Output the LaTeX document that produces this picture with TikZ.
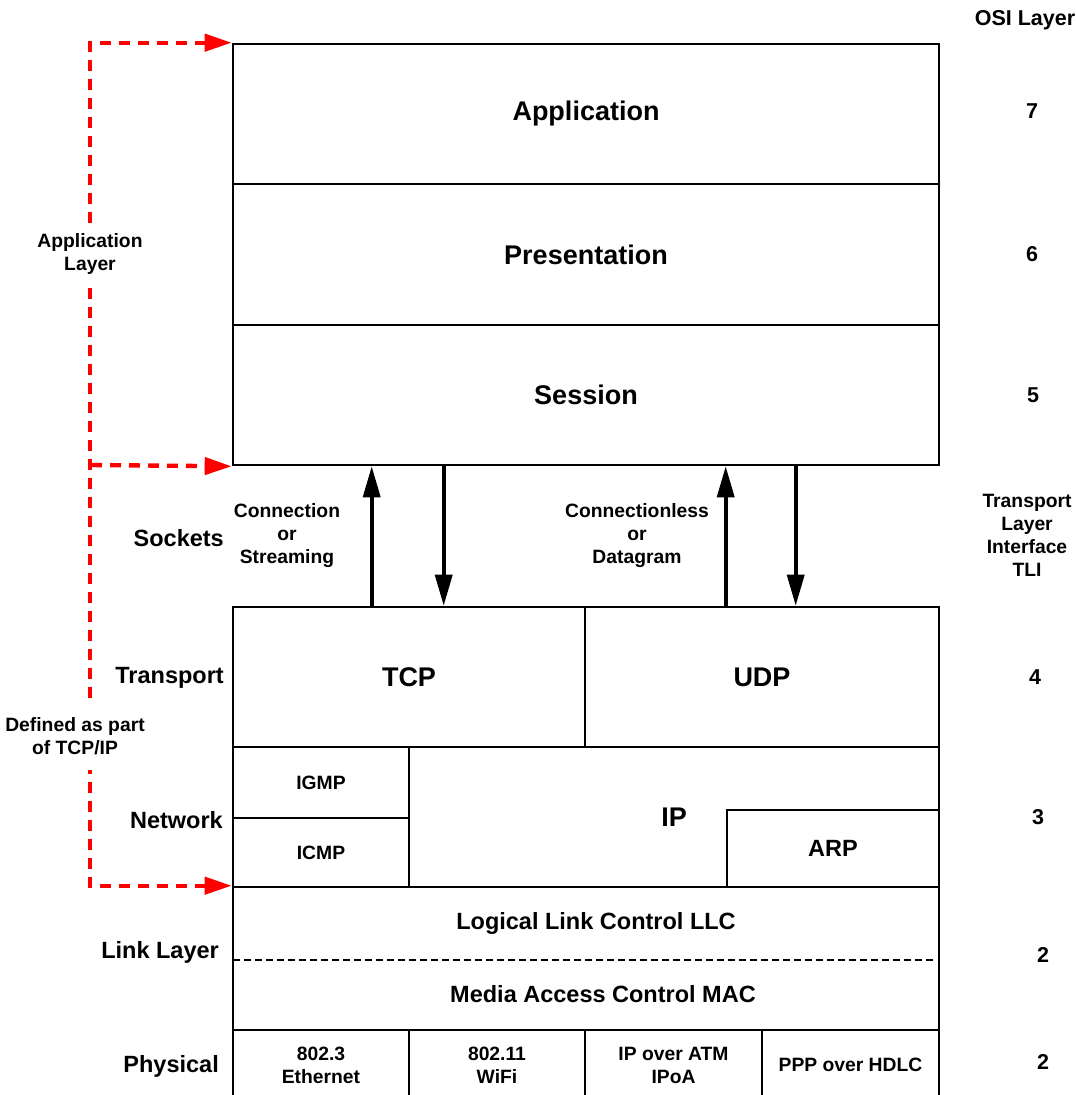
\documentclass[tikz,border=0pt]{standalone}
\usepackage{fontspec}
\setmainfont{Liberation Sans}
\usetikzlibrary{arrows.meta}
\begin{document}
\begin{tikzpicture}[x=1pt, y=-1pt,
        cell/.style={draw, line width=2.6pt, inner sep=0pt, align=center},
        big/.style={font=\fontsize{27}{30}\selectfont\bfseries},
        mid/.style={font=\fontsize{23.5}{27}\selectfont\bfseries},
        sm/.style={font=\fontsize{19.3}{23}\selectfont\bfseries, align=center},
        osi/.style={font=\fontsize{21.5}{23}\selectfont\bfseries, align=center},
        side/.style={mid, anchor=east, inner sep=0pt},
        sock/.style={line width=3.6pt, -{Triangle[length=31pt, width=17pt]}},
        tcpip/.style={draw=red, line width=4.4pt, dash pattern=on 11pt off 8pt},
        redtip/.tip={Triangle[length=27pt, width=17pt]}]
    \clip (0,0) rectangle (1076,1095);
    \def\xl{233} \def\xr{939} \def\xred{91}

    \node[cell, big, minimum width=706, minimum height=140] (app) at (586,114) {Application};
    \node[cell, big, minimum width=706, minimum height=141] (pres) at (586,254.5) {Presentation};
    \node[cell, big, minimum width=706, minimum height=140] (ses) at (586,395) {Session};

    \node[cell, big, minimum width=352, minimum height=140] (tcp) at (409,677) {TCP};
    \node[cell, big, minimum width=354, minimum height=140] (udp) at (762,677) {UDP};

    \node[cell, big, minimum width=530, minimum height=140] (ip) at (674,817) {IP};
    \node[cell, sm, minimum width=176, minimum height=71] (igmp) at (321,782.5) {IGMP};
    \node[cell, sm, minimum width=176, minimum height=69] (icmp) at (321,852.5) {ICMP};
    \node[cell, mid, minimum width=212, minimum height=77] (arp) at (833,848.5) {ARP};

    \node[cell, minimum width=706, minimum height=143] (link) at (586,958.5) {};
    \draw[line width=1.5pt, dash pattern=on 7pt off 4pt] (\xl,960) -- (935,960);
    \node[mid] (llc) at (596,923) {Logical Link Control LLC};
    \node[mid] (mac) at (603,994) {Media Access Control MAC};

    \node[cell, sm, minimum width=176, minimum height=70] (eth) at (321,1065) {802.3\\Ethernet};
    \node[cell, sm, minimum width=176, minimum height=70] (wifi) at (497,1065) {802.11\\WiFi};
    \node[cell, sm, minimum width=177, minimum height=70] (ipoa) at (673.5,1065) {IP over ATM\\IPoA};
    \node[cell, sm, minimum width=177, minimum height=70] (ppp) at (850.5,1065) {PPP over HDLC};

    \draw[sock] ([xshift=140pt]tcp.north west) -- ([xshift=140pt]ses.south west);
    \draw[sock] ([xshift=212pt]ses.south west) -- ([xshift=212pt]tcp.north west);
    \draw[sock] ([xshift=142pt]udp.north west) -- ([xshift=142pt]ses.south west -| udp.north west);
    \draw[sock] ([xshift=212pt]ses.south west -| udp.north west) -- ([xshift=212pt]udp.north west);

    \node[sm] (conn) at (287,536) {Connection\\or\\Streaming};
    \node[sm] (dgram) at (637,536) {Connectionless\\or\\Datagram};

    \coordinate (mid) at (\xred,465);
    \draw[tcpip, {redtip}-{redtip}] (app.north west) -- ++(-142,0) |- (link.north west);
    \draw[tcpip, -{redtip}] (mid) -- (ses.south west);
    \node[sm, fill=white, inner xsep=2pt, inner ysep=7pt] (applayer) at (90,254.5) {Application\\Layer};
    \node[sm, fill=white, inner xsep=2pt, inner ysep=15pt] (defined) at (75,736) {Defined as part\\of TCP/IP};

    \node[side] (sockets) at (224,538) {Sockets};
    \node[side] (transport) at (224,678) {Transport};
    \node[side] (network) at (223,820) {Network};
    \node[side] (linklayer) at (219,952) {Link Layer};
    \node[side] (physical) at (219,1066) {Physical};

    \node[osi] (osilayer) at (1025,20) {OSI Layer};
    \node[osi] (l7) at (1032,111) {7};
    \node[osi] (l6) at (1032,254) {6};
    \node[osi] (l5) at (1033,395) {5};
    \node[sm] (tli) at (1027,535) {Transport\\Layer\\Interface\\TLI};
    \node[osi] (l4) at (1035,677) {4};
    \node[osi] (l3) at (1038,817) {3};
    \node[osi] (l2a) at (1043,955) {2};
    \node[osi] (l2b) at (1043,1062) {2};
\end{tikzpicture}
\end{document}
